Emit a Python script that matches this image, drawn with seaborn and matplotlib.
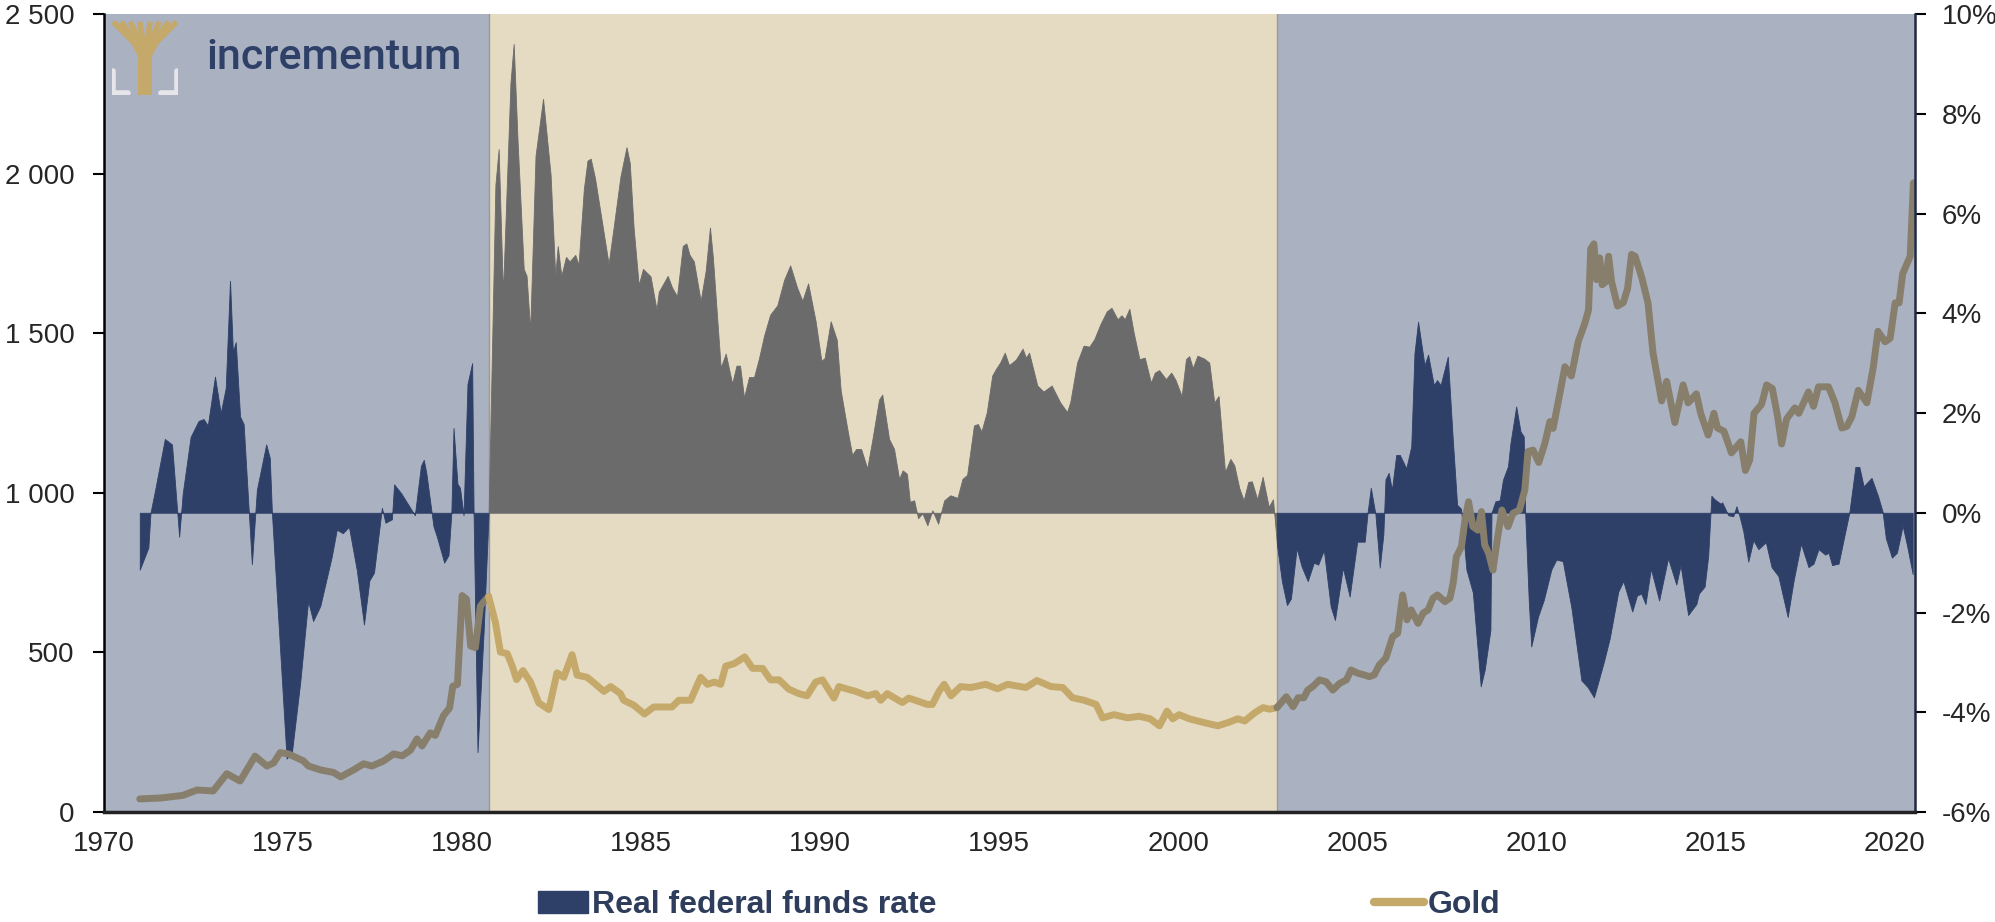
import numpy as np
import pandas as pd
import matplotlib
matplotlib.use("Agg")
import matplotlib.pyplot as plt
import seaborn as sns
from matplotlib.patches import Patch
from matplotlib.lines import Line2D
from matplotlib.ticker import FuncFormatter

# ==========================================
# DATA
# ==========================================

# real federal funds rate, % (right axis)
rate_dates = [
    1971.00, 1971.24, 1971.30, 1971.43, 1971.70, 1971.90, 1972.10, 1972.20, 1972.42, 1972.64,
    1972.78, 1972.90, 1973.10, 1973.26, 1973.40, 1973.52, 1973.60, 1973.68, 1973.80, 1973.90,
    1974.13, 1974.27, 1974.53, 1974.63, 1974.69, 1975.10, 1975.25, 1975.48, 1975.70, 1975.84,
    1976.04, 1976.36, 1976.50, 1976.67, 1976.84, 1977.06, 1977.26, 1977.41, 1977.54, 1977.76,
    1977.86, 1978.04, 1978.10, 1978.30, 1978.49, 1978.68, 1978.85, 1978.93, 1979.00, 1979.20,
    1979.30, 1979.50, 1979.62, 1979.70, 1979.76, 1979.87, 1979.94, 1980.04, 1980.15, 1980.28,
    1980.32, 1980.43, 1980.60, 1980.74, 1980.93, 1981.02, 1981.14, 1981.35, 1981.44, 1981.55,
    1981.72, 1981.80, 1981.90, 1982.05, 1982.26, 1982.47, 1982.60, 1982.67, 1982.77, 1982.90,
    1983.00, 1983.16, 1983.25, 1983.40, 1983.50, 1983.59, 1983.71, 1984.09, 1984.23, 1984.42,
    1984.59, 1984.68, 1984.79, 1984.93, 1985.05, 1985.26, 1985.43, 1985.49, 1985.74, 1985.86,
    1986.00, 1986.16, 1986.26, 1986.35, 1986.47, 1986.66, 1986.80, 1986.92, 1987.00, 1987.22,
    1987.36, 1987.54, 1987.66, 1987.76, 1987.87, 1988.01, 1988.15, 1988.29, 1988.43, 1988.60,
    1988.80, 1988.99, 1989.16, 1989.35, 1989.50, 1989.66, 1989.87, 1990.03, 1990.12, 1990.29,
    1990.46, 1990.57, 1990.77, 1990.89, 1991.00, 1991.14, 1991.31, 1991.45, 1991.64, 1991.73,
    1991.92, 1992.06, 1992.20, 1992.30, 1992.42, 1992.50, 1992.62, 1992.73, 1992.85, 1992.99,
    1993.13, 1993.29, 1993.46, 1993.63, 1993.83, 1993.97, 1994.10, 1994.29, 1994.40, 1994.50,
    1994.65, 1994.80, 1994.90, 1995.02, 1995.15, 1995.27, 1995.46, 1995.65, 1995.74, 1995.83,
    1996.06, 1996.23, 1996.46, 1996.70, 1996.89, 1996.98, 1997.17, 1997.35, 1997.51, 1997.65,
    1997.82, 1998.00, 1998.13, 1998.30, 1998.41, 1998.50, 1998.63, 1998.75, 1998.91, 1999.06,
    1999.23, 1999.34, 1999.46, 1999.65, 1999.80, 1999.92, 2000.09, 2000.21, 2000.30, 2000.40,
    2000.53, 2000.72, 2000.86, 2001.00, 2001.12, 2001.30, 2001.45, 2001.56, 2001.70, 2001.82,
    2001.95, 2002.05, 2002.20, 2002.35, 2002.52, 2002.64, 2002.75, 2002.89, 2003.03, 2003.14,
    2003.30, 2003.44, 2003.61, 2003.78, 2003.90, 2004.06, 2004.25, 2004.37, 2004.59, 2004.78,
    2004.99, 2005.20, 2005.28, 2005.37, 2005.50, 2005.62, 2005.72, 2005.78, 2005.87, 2005.96,
    2006.08, 2006.18, 2006.36, 2006.50, 2006.59, 2006.69, 2006.87, 2006.97, 2007.13, 2007.22,
    2007.32, 2007.52, 2007.66, 2007.78, 2007.89, 2008.04, 2008.22, 2008.44, 2008.55, 2008.71,
    2008.74, 2008.85, 2008.97, 2009.06, 2009.20, 2009.27, 2009.43, 2009.55, 2009.64, 2009.68,
    2009.78, 2009.85, 2010.04, 2010.20, 2010.41, 2010.55, 2010.73, 2010.97, 2011.25, 2011.43,
    2011.60, 2011.73, 2011.88, 2012.04, 2012.28, 2012.42, 2012.67, 2012.80, 2012.92, 2013.04,
    2013.19, 2013.42, 2013.67, 2013.90, 2014.02, 2014.23, 2014.46, 2014.53, 2014.69, 2014.79,
    2014.88, 2014.97, 2015.14, 2015.18, 2015.35, 2015.49, 2015.58, 2015.67, 2015.77, 2015.91,
    2016.05, 2016.19, 2016.40, 2016.56, 2016.75, 2017.01, 2017.17, 2017.38, 2017.59, 2017.73,
    2017.87, 2018.06, 2018.15, 2018.25, 2018.43, 2018.62, 2018.73, 2018.90, 2019.01, 2019.13,
    2019.35, 2019.53, 2019.66, 2019.75, 2019.92, 2020.06, 2020.22, 2020.34, 2020.50,
]
rate_vals = [
    -1.14, -0.70, 0.00, 0.46, 1.48, 1.37, -0.48, 0.39, 1.52, 1.84,
    1.88, 1.75, 2.73, 2.00, 2.50, 4.65, 3.23, 3.42, 1.93, 1.78,
    -1.03, 0.46, 1.37, 1.10, 0.00, -4.93, -4.79, -3.40, -1.77, -2.17,
    -1.87, -0.88, -0.34, -0.41, -0.28, -1.15, -2.24, -1.36, -1.20, 0.10,
    -0.20, -0.13, 0.57, 0.39, 0.17, -0.05, 0.94, 1.06, 0.80, -0.27,
    -0.49, -1.00, -0.85, 0.00, 1.70, 0.58, 0.50, -0.05, 2.58, 3.00,
    0.00, -4.80, -2.39, 0.00, 6.58, 7.29, 4.39, 8.62, 9.40, 7.43,
    4.89, 4.75, 3.65, 7.16, 8.30, 6.78, 4.75, 5.35, 4.75, 5.13,
    5.04, 5.17, 4.97, 6.50, 7.06, 7.10, 6.71, 4.99, 5.72, 6.74,
    7.33, 7.02, 5.70, 4.57, 4.89, 4.74, 4.07, 4.43, 4.75, 4.52,
    4.34, 5.35, 5.40, 5.17, 5.04, 4.25, 4.85, 5.72, 5.13, 2.91,
    3.19, 2.59, 2.95, 2.95, 2.31, 2.72, 2.72, 3.10, 3.55, 3.97,
    4.16, 4.67, 4.96, 4.52, 4.25, 4.60, 3.84, 3.05, 3.10, 3.84,
    3.47, 2.45, 1.62, 1.16, 1.28, 1.28, 0.89, 1.45, 2.27, 2.37,
    1.48, 1.28, 0.68, 0.85, 0.78, 0.22, 0.25, -0.11, -0.01, -0.25,
    0.05, -0.22, 0.25, 0.35, 0.30, 0.68, 0.76, 1.75, 1.78, 1.63,
    2.02, 2.75, 2.88, 3.01, 3.21, 2.96, 3.07, 3.29, 3.11, 3.21,
    2.55, 2.43, 2.55, 2.21, 2.02, 2.22, 3.01, 3.35, 3.33, 3.48,
    3.78, 4.04, 4.11, 3.88, 3.96, 3.88, 4.09, 3.61, 3.08, 3.11,
    2.61, 2.81, 2.86, 2.68, 2.81, 2.66, 2.34, 3.08, 3.14, 2.90,
    3.15, 3.09, 3.01, 2.21, 2.34, 0.82, 1.08, 0.95, 0.49, 0.25,
    0.62, 0.63, 0.27, 0.72, 0.12, 0.27, -0.64, -1.38, -1.85, -1.72,
    -0.71, -1.08, -1.37, -1.00, -1.04, -0.75, -1.88, -2.15, -1.10, -1.68,
    -0.58, -0.58, 0.00, 0.50, -0.03, -1.10, -0.44, 0.67, 0.80, 0.46,
    1.16, 1.16, 0.89, 1.33, 3.20, 3.83, 2.96, 3.17, 2.56, 2.66,
    2.56, 3.13, 1.46, 0.16, 0.08, -1.14, -1.60, -3.48, -3.15, -2.35,
    0.00, 0.23, 0.25, 0.66, 0.93, 1.40, 2.13, 1.63, 1.53, 0.00,
    -1.75, -2.68, -2.08, -1.75, -1.14, -0.94, -0.97, -1.90, -3.36, -3.50,
    -3.70, -3.37, -2.98, -2.52, -1.58, -1.37, -1.98, -1.66, -1.62, -1.83,
    -1.12, -1.76, -0.91, -1.44, -1.05, -2.05, -1.83, -1.62, -1.48, -0.87,
    0.34, 0.27, 0.18, 0.21, -0.05, -0.07, 0.13, -0.08, -0.37, -0.98,
    -0.55, -0.73, -0.59, -1.09, -1.27, -2.09, -1.38, -0.62, -1.09, -1.02,
    -0.73, -0.84, -0.80, -1.05, -1.02, -0.37, 0.00, 0.92, 0.92, 0.53,
    0.70, 0.34, 0.02, -0.51, -0.90, -0.80, -0.26, -0.65, -1.23,
]

# gold price, USD/oz (left axis)
gold_dates = [
    1971.00, 1971.60, 1972.20, 1972.60, 1973.05, 1973.43, 1973.80, 1974.22, 1974.55, 1974.74,
    1974.92, 1975.15, 1975.57, 1975.71, 1976.04, 1976.41, 1976.61, 1976.97, 1977.25, 1977.48,
    1977.81, 1978.09, 1978.33, 1978.56, 1978.74, 1978.88, 1979.11, 1979.25, 1979.48, 1979.65,
    1979.74, 1979.87, 1980.00, 1980.12, 1980.24, 1980.37, 1980.51, 1980.60, 1980.74, 1980.93,
    1981.07, 1981.26, 1981.40, 1981.52, 1981.70, 1981.91, 1982.14, 1982.42, 1982.65, 1982.84,
    1983.07, 1983.21, 1983.49, 1983.73, 1983.96, 1984.15, 1984.42, 1984.51, 1984.79, 1985.09,
    1985.35, 1985.86, 1986.05, 1986.38, 1986.66, 1986.85, 1987.04, 1987.22, 1987.36, 1987.60,
    1987.89, 1988.11, 1988.39, 1988.61, 1988.85, 1989.12, 1989.40, 1989.63, 1989.87, 1990.06,
    1990.38, 1990.52, 1990.76, 1990.99, 1991.31, 1991.55, 1991.69, 1991.87, 1992.29, 1992.47,
    1992.99, 1993.13, 1993.32, 1993.46, 1993.65, 1993.92, 1994.20, 1994.62, 1994.95, 1995.23,
    1995.74, 1996.05, 1996.44, 1996.77, 1997.04, 1997.37, 1997.70, 1997.88, 1998.20, 1998.58,
    1998.90, 1999.21, 1999.47, 1999.68, 1999.84, 2000.02, 2000.30, 2000.72, 2001.10, 2001.38,
    2001.66, 2001.85, 2002.13, 2002.36, 2002.55, 2002.75, 2003.01, 2003.20, 2003.34, 2003.50,
    2003.61, 2003.75, 2003.94, 2004.12, 2004.31, 2004.50, 2004.69, 2004.82, 2005.00, 2005.17,
    2005.33, 2005.47, 2005.61, 2005.79, 2005.98, 2006.12, 2006.26, 2006.38, 2006.50, 2006.69,
    2006.83, 2006.97, 2007.11, 2007.23, 2007.44, 2007.58, 2007.67, 2007.76, 2007.90, 2008.00,
    2008.10, 2008.22, 2008.36, 2008.46, 2008.55, 2008.66, 2008.78, 2008.90, 2009.03, 2009.20,
    2009.34, 2009.52, 2009.67, 2009.76, 2009.90, 2010.06, 2010.23, 2010.37, 2010.46, 2010.65,
    2010.79, 2010.97, 2011.16, 2011.34, 2011.45, 2011.51, 2011.60, 2011.67, 2011.76, 2011.83,
    2011.92, 2012.01, 2012.09, 2012.26, 2012.42, 2012.54, 2012.65, 2012.75, 2012.94, 2013.11,
    2013.25, 2013.49, 2013.63, 2013.86, 2014.09, 2014.23, 2014.46, 2014.58, 2014.79, 2014.95,
    2015.05, 2015.23, 2015.44, 2015.70, 2015.83, 2015.95, 2016.07, 2016.28, 2016.42, 2016.58,
    2016.73, 2016.84, 2016.98, 2017.21, 2017.32, 2017.59, 2017.73, 2017.87, 2018.15, 2018.33,
    2018.52, 2018.66, 2018.80, 2018.98, 2019.22, 2019.40, 2019.53, 2019.73, 2019.87, 2020.01,
    2020.12, 2020.22, 2020.43, 2020.52,
]
gold_vals = [
    41, 44, 52, 69, 66, 120, 97, 175, 144, 154,
    186, 182, 160, 144, 132, 124, 110, 132, 151, 144,
    160, 182, 176, 194, 229, 207, 248, 240, 302, 326,
    394, 400, 678, 667, 520, 515, 645, 658, 675, 594,
    501, 496, 457, 415, 443, 407, 342, 321, 436, 422,
    493, 429, 422, 400, 378, 393, 371, 350, 335, 307,
    329, 329, 350, 350, 422, 400, 407, 400, 457, 465,
    486, 450, 450, 414, 414, 385, 371, 364, 407, 414,
    357, 393, 385, 378, 364, 371, 350, 371, 343, 357,
    337, 337, 379, 400, 364, 393, 390, 400, 386, 400,
    390, 412, 393, 390, 358, 350, 337, 295, 305, 295,
    300, 292, 270, 316, 292, 305, 292, 280, 270, 280,
    292, 285, 311, 327, 322, 327, 361, 330, 358, 358,
    382, 393, 414, 408, 382, 403, 414, 445, 435, 430,
    424, 430, 461, 482, 549, 560, 680, 602, 633, 591,
    623, 633, 670, 680, 659, 670, 717, 800, 831, 915,
    972, 894, 883, 941, 837, 811, 758, 852, 946, 894,
    936, 946, 1009, 1129, 1134, 1095, 1155, 1223, 1202, 1312,
    1395, 1366, 1473, 1529, 1573, 1764, 1780, 1668, 1736, 1652,
    1660, 1741, 1663, 1585, 1596, 1640, 1747, 1741, 1673, 1595,
    1438, 1288, 1349, 1220, 1338, 1282, 1310, 1249, 1181, 1249,
    1203, 1193, 1125, 1160, 1070, 1103, 1249, 1277, 1338, 1327,
    1238, 1153, 1232, 1266, 1249, 1316, 1271, 1332, 1332, 1282,
    1203, 1208, 1238, 1321, 1282, 1394, 1506, 1473, 1484, 1595,
    1595, 1686, 1741, 1971,
]

# shaded periods
period_edges = [1970.0, 1980.74, 2002.75, 2020.57]
period_kind = ["negative", "positive", "negative"]

legend_labels = ["Real federal funds rate", "Gold"]

# ==========================================
# COLOURS
# ==========================================

BG_BLUE = "#aab1c1"
BG_BEIGE = "#e5dbc3"
NAVY = "#2e4068"
GREY = "#6b6b6b"
GOLD = "#c5a96b"
GOLD_DIM = "#877f6b"
TEXT_NAVY = "#2e3d5c"

sns.set_style("white")
plt.rcParams["font.family"] = ["Liberation Sans", "DejaVu Sans"]

rate_df = pd.DataFrame({"date": rate_dates, "rate": rate_vals})
gold_df = pd.DataFrame({"date": gold_dates, "gold": gold_vals})

fig = plt.figure(figsize=(19.95, 9.22), dpi=100)
ax = fig.add_axes([0.0521, 0.1193, 0.9079, 0.8655])

# ==========================================
# BACKGROUND PERIODS + RATE AREA
# ==========================================

for i, kind in enumerate(period_kind):
    lo, hi = period_edges[i], period_edges[i + 1]
    ax.axvspan(lo, hi, color=BG_BLUE if kind == "negative" else BG_BEIGE,
               lw=0, zorder=0)
    mask = (rate_df["date"] >= lo) & (rate_df["date"] <= hi)
    ax.fill_between(rate_df["date"], rate_df["rate"], 0, where=mask,
                    color=NAVY if kind == "negative" else GREY,
                    lw=0.6, zorder=2)

for edge in period_edges[1:-1]:
    ax.axvline(edge, color="#9a9a90", lw=1, zorder=1)

ax.set_xlim(period_edges[0], period_edges[-1])
ax.set_ylim(-6, 10)
ax.set_yticks(range(-6, 11, 2))
ax.set_xticks(range(1970, 2021, 5))

# ==========================================
# GOLD LINE
# ==========================================

ax2 = ax.twinx()
for i, kind in enumerate(period_kind):
    lo, hi = period_edges[i], period_edges[i + 1]
    seg = gold_df[(gold_df["date"] >= lo) & (gold_df["date"] <= hi)]
    sns.lineplot(data=seg, x="date", y="gold", ax=ax2, sort=False,
                 estimator=None, color=GOLD_DIM if kind == "negative" else GOLD,
                 lw=5, solid_capstyle="round", legend=False)

ax2.set_ylim(0, 2500)
ax2.set_yticks(range(0, 2501, 500))
ax2.set_xlabel("")
ax2.set_ylabel("")
ax.set_xlabel("")
ax.set_ylabel("")

# rate on the right, gold on the left
ax.yaxis.tick_right()
ax.yaxis.set_label_position("right")
ax2.yaxis.tick_left()
ax2.yaxis.set_label_position("left")
ax.yaxis.set_major_formatter(FuncFormatter(lambda v, p: f"{v:.0f}%"))
ax2.yaxis.set_major_formatter(
    FuncFormatter(lambda v, p: f"{v:,.0f}".replace(",", " ")))

# ==========================================
# AXES STYLING
# ==========================================

for a in (ax, ax2):
    for s in a.spines.values():
        s.set_visible(False)
    a.tick_params(axis="both", labelsize=20, length=8, width=1.5,
                  direction="out", color="black", pad=6)

ax2.spines["left"].set_visible(True)
ax2.spines["left"].set_color("black")
ax2.spines["left"].set_linewidth(1.8)
ax2.spines["right"].set_visible(True)
ax2.spines["right"].set_color("#1e2a45")
ax2.spines["right"].set_linewidth(1.8)
ax2.spines["bottom"].set_visible(True)
ax2.spines["bottom"].set_color("#222222")
ax2.spines["bottom"].set_linewidth(2.5)
ax.tick_params(axis="y", pad=11)
ax2.tick_params(axis="y", pad=13)

# ==========================================
# LOGO
# ==========================================

logo = fig.add_axes([0.0561, 0.897, 0.0331, 0.081])
logo.set_xlim(0, 1)
logo.set_ylim(0, 1)
logo.axis("off")
logo.add_patch(plt.Rectangle((0.40, 0.0), 0.20, 0.5, color=GOLD, lw=0))
for tx in [0.02, 0.14, 0.28, 0.42, 0.58, 0.72, 0.86, 0.98]:
    bx = 0.5 + (tx - 0.5) * 0.35
    logo.plot([0.5, bx, tx], [0.42, 0.7, 0.98], color=GOLD, lw=4,
              solid_capstyle="butt")
logo.plot([0.01, 0.01, 0.25], [0.32, 0.02, 0.02], color="#e6e6ea", lw=4)
logo.plot([0.99, 0.99, 0.75], [0.32, 0.02, 0.02], color="#e6e6ea", lw=4)

fig.text(0.1035, 0.938, "incrementum", color=NAVY, fontsize=31,
         family=["Roboto", "Liberation Sans", "DejaVu Sans"],
         fontweight="medium", ha="left", va="center")

# ==========================================
# LEGEND
# ==========================================

handles = [Patch(facecolor=NAVY, edgecolor=NAVY),
           Line2D([0], [0], color=GOLD, lw=6, solid_capstyle="round")]
fig.legend(handles, legend_labels, loc="center",
           bbox_to_anchor=(0.511, 0.018), ncol=2, frameon=False,
           columnspacing=13.7, handlelength=1.56, handletextpad=0.12,
           prop={"size": 23, "weight": "bold"}, labelcolor=TEXT_NAVY)

fig.savefig("out.png", dpi=100)
